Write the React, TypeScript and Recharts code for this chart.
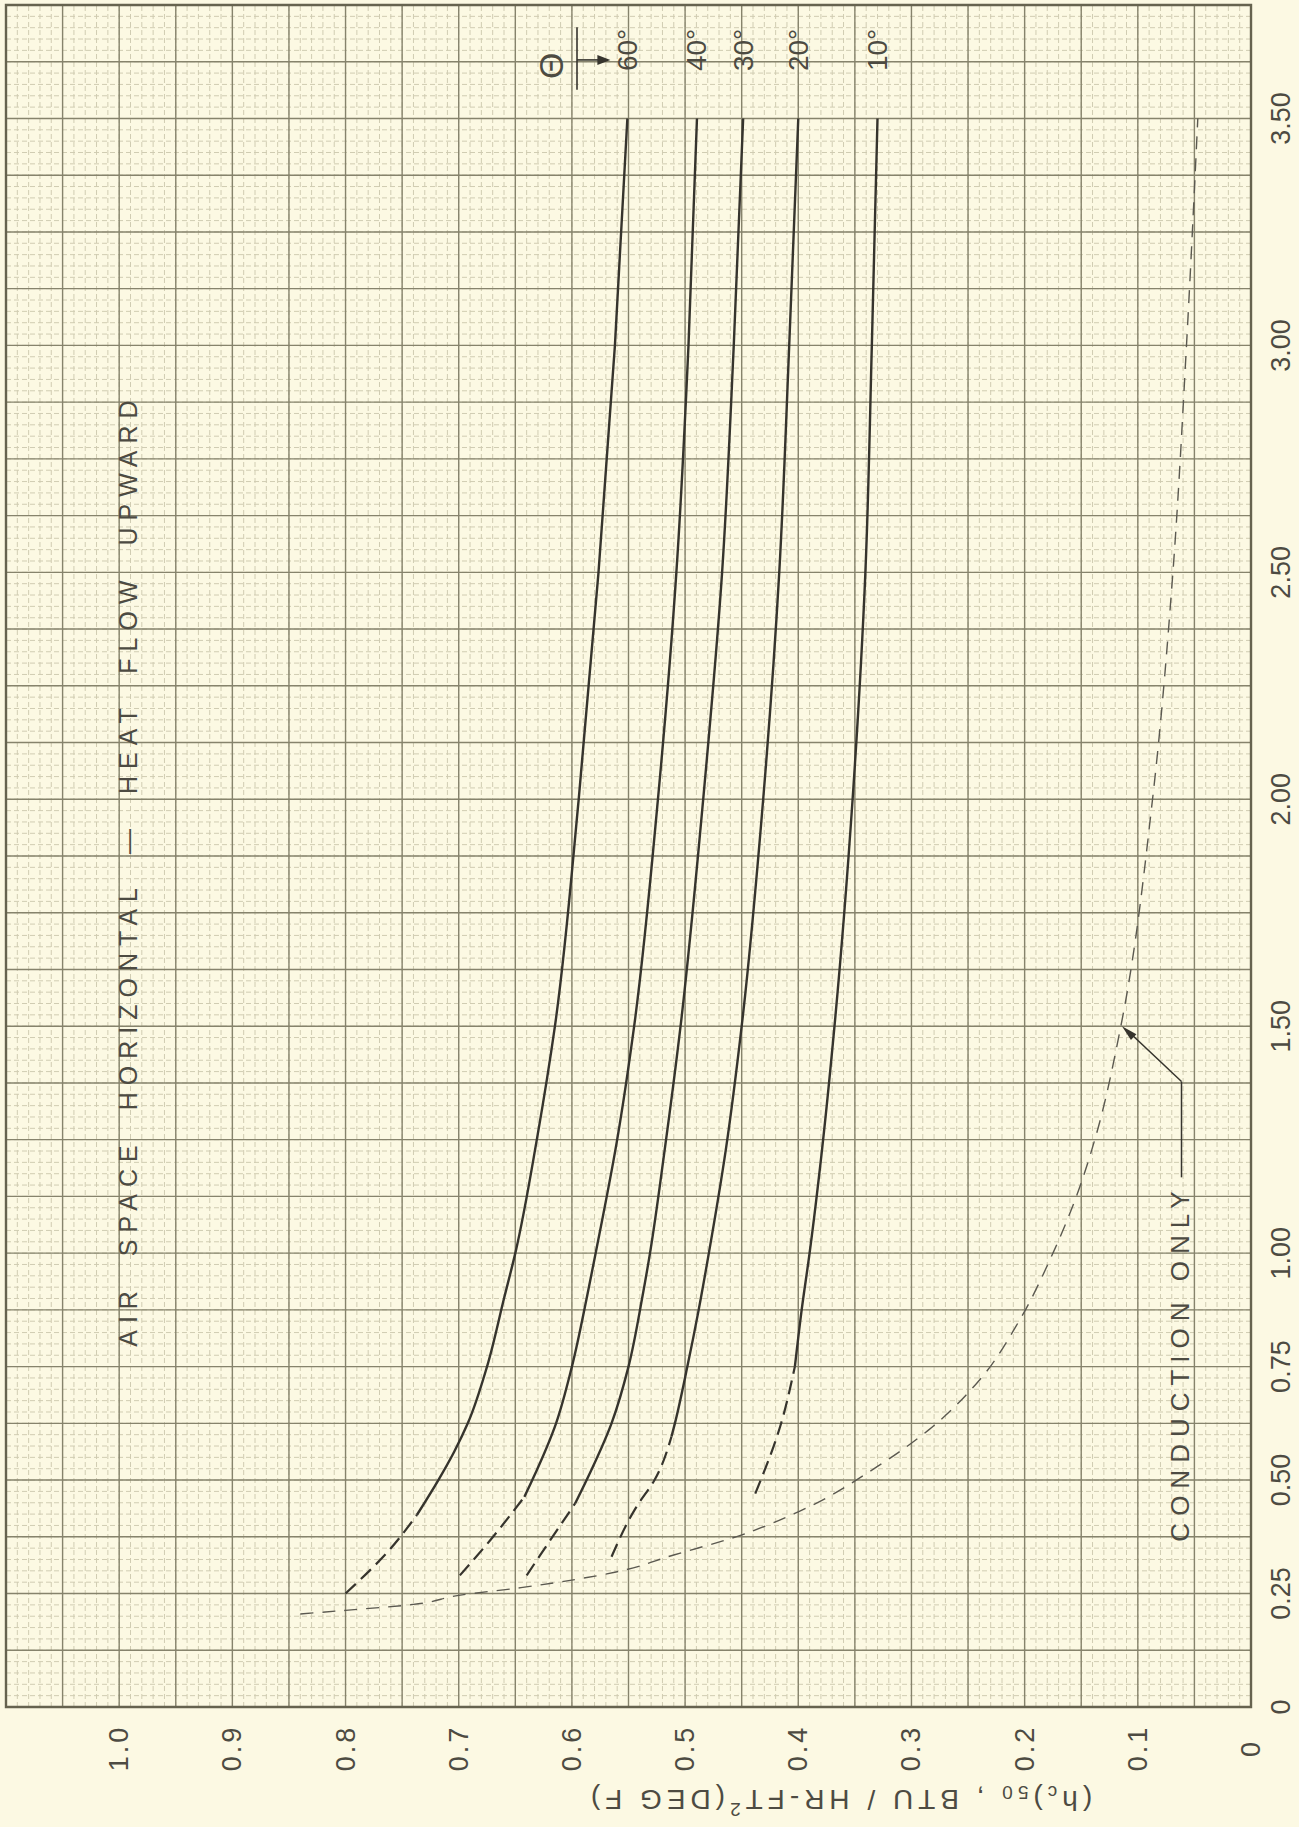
import React from 'react'
import {
  LineChart, Line, XAxis, YAxis, CartesianGrid,
  ReferenceArea, ReferenceLine, ReferenceDot,
} from 'recharts'

// The sheet is drawn as a normal chart (L across, hc up) and then turned
// a quarter turn counter-clockwise, the way the original sheet is printed.

// L, air space thickness (in)
const lTicks = [0, 0.25, 0.5, 0.75, 1, 1.5, 2, 2.5, 3, 3.5]
const lTickLabels = ['0', '0.25', '0.50', '0.75', '1.00', '1.50', '2.00', '2.50', '3.00', '3.50']
// (hc)50, BTU / HR-FT2 (DEG F)
const hcTicks = [0, 0.1, 0.2, 0.3, 0.4, 0.5, 0.6, 0.7, 0.8, 0.9, 1.0]
const hcTickLabels = ['0', '0.1', '0.2', '0.3', '0.4', '0.5', '0.6', '0.7', '0.8', '0.9', '1.0']

const angleLabels = ['60°', '40°', '30°', '20°', '10°']

// theta = 60
const l60Dash = [0.25, 0.344, 0.423]
const hc60Dash = [0.8, 0.762, 0.737]
const l60 = [0.423, 0.5, 0.5625, 0.625, 0.75, 0.9, 1.0, 1.25, 1.5, 2.0, 2.5, 3.0, 3.5]
const hc60 = [0.737, 0.718, 0.704, 0.692, 0.675, 0.66, 0.65, 0.631, 0.615, 0.594, 0.5765, 0.562, 0.551]

// theta = 40
const l40Dash = [0.29, 0.368, 0.463]
const hc40Dash = [0.699, 0.672, 0.642]
const l40 = [0.463, 0.5, 0.625, 0.75, 0.9, 1.0, 1.25, 1.5, 2.0, 2.5, 3.0, 3.5]
const hc40 = [0.642, 0.635, 0.614, 0.6, 0.587, 0.579, 0.56, 0.545, 0.524, 0.5077, 0.497, 0.4895]

// theta = 30
const l30Dash = [0.29, 0.368, 0.449]
const hc30Dash = [0.64, 0.619, 0.597]
const l30 = [0.449, 0.5, 0.625, 0.75, 0.9, 1.0, 1.228, 1.5, 2.0, 2.5, 3.0, 3.5]
const hc30 = [0.597, 0.587, 0.565, 0.55, 0.538, 0.531, 0.518, 0.504, 0.484, 0.4673, 0.457, 0.4487]

// theta = 20
const l20Dash = [0.331, 0.441, 0.5, 0.596]
const hc20Dash = [0.565, 0.543, 0.527, 0.512]
const l20 = [0.596, 0.625, 0.75, 0.875, 1.0, 1.228, 1.5, 2.0, 2.5, 3.0, 3.5]
const hc20 = [0.512, 0.509, 0.498, 0.488, 0.479, 0.464, 0.45, 0.431, 0.4168, 0.408, 0.4]

// theta = 10
const l10Dash = [0.47, 0.618, 0.75]
const hc10Dash = [0.438, 0.416, 0.403]
const l10 = [0.75, 0.875, 1.0, 1.228, 1.5, 2.0, 2.5, 3.0, 3.5]
const hc10 = [0.403, 0.397, 0.39, 0.379, 0.368, 0.352, 0.3407, 0.335, 0.33]

// conduction only
const lCond = [0.205, 0.213, 0.226, 0.246, 0.263, 0.298, 0.335, 0.375, 0.43, 0.53, 0.61, 0.72, 0.85, 1.0, 1.12, 1.25, 1.5, 2.0, 2.5, 3.0, 3.5]
const hcCond = [0.84, 0.8, 0.74, 0.7, 0.645, 0.56, 0.51, 0.455, 0.4, 0.33, 0.285, 0.24, 0.205, 0.175, 0.155, 0.138, 0.115, 0.087, 0.069, 0.057, 0.047]

const zip = (l: number[], hc: number[]) => l.map((v, i) => ({ L: v, hc: hc[i] }))

const curves = [
  { dash: zip(l60Dash, hc60Dash), solid: zip(l60, hc60) },
  { dash: zip(l40Dash, hc40Dash), solid: zip(l40, hc40) },
  { dash: zip(l30Dash, hc30Dash), solid: zip(l30, hc30) },
  { dash: zip(l20Dash, hc20Dash), solid: zip(l20, hc20) },
  { dash: zip(l10Dash, hc10Dash), solid: zip(l10, hc10) },
]

// graph paper rulings
const minorL = Array.from({ length: 151 }, (_, i) => Math.round(i * 25) / 1000)
const minorHc = Array.from({ length: 111 }, (_, i) => Math.round(i * 10) / 1000)
const majorL = Array.from({ length: 31 }, (_, i) => Math.round(i * 125) / 1000)
const majorHc = Array.from({ length: 23 }, (_, i) => Math.round(i * 50) / 1000)

const W = 1827
const H = 1299
const PLOT_LEFT = 120
const PLOT_BOTTOM = 1251

const paper = '#fcf9e3'
const ink = '#4d4b42'
const lineInk = '#36342d'
const font = '"Liberation Sans", Arial, sans-serif'

function LTick(props: any) {
  const { x, payload } = props
  const i = lTicks.indexOf(payload.value)
  return (
    <text x={x} y={PLOT_BOTTOM + 30} textAnchor="middle" dominantBaseline="central"
      fontSize={27} fill={ink} fontFamily={font}>
      {lTickLabels[i]}
    </text>
  )
}

function HcTick(props: any) {
  const { y, payload } = props
  const i = hcTicks.findIndex((t) => Math.abs(t - payload.value) < 1e-6)
  return (
    <text x={PLOT_LEFT - 41} y={y} textAnchor="middle" dominantBaseline="central"
      fontSize={27} fill={ink} fontFamily={font} letterSpacing={3}>
      {hcTickLabels[i]}
    </text>
  )
}

function HcTitle(props: any) {
  const vb = props.viewBox || { x: 0, y: 6 }
  const x = vb.x + 27
  const y = vb.y + 833
  return (
    <text x={x} y={y} transform={`rotate(-90, ${x}, ${y})`} textAnchor="middle"
      dominantBaseline="central" fontSize={28} fill={ink} fontFamily={font} letterSpacing={5}>
      (h<tspan fontSize={19} dy={7}>c</tspan>
      <tspan dy={-7}>)</tspan>
      <tspan fontSize={19} dy={7}>50</tspan>
      <tspan dy={-7}> , BTU / HR-FT</tspan>
      <tspan fontSize={19} dy={-10}>2</tspan>
      <tspan dy={10}>(DEG F)</tspan>
    </text>
  )
}

const textAt = (label: string, size: number, spacing = 0, words = 0) => (p: any) => (
  <text x={p.cx} y={p.cy} textAnchor="middle" dominantBaseline="central"
    fontSize={size} fill={ink} fontFamily={font} letterSpacing={spacing} wordSpacing={words}>
    {label}
  </text>
)

const arrowDown = (p: any) => (
  <polygon points={`${p.cx},${p.cy} ${p.cx - 5},${p.cy - 13} ${p.cx + 5},${p.cy - 13}`} fill={lineInk} />
)

const arrowLeader = (p: any) => (
  <polygon points={`${p.cx},${p.cy} ${p.cx - 16},${p.cy - 4} ${p.cx - 16},${p.cy + 4}`}
    fill={lineInk} transform={`rotate(-47, ${p.cx}, ${p.cy})`} />
)

export default function App() {
  return (
    <div
      style={{
        position: 'absolute', left: 0, top: 0, width: W, height: H,
        background: paper, transformOrigin: '0 0',
        transform: `translateY(${W}px) rotate(-90deg)`,
      }}
    >
      <LineChart width={W} height={H} margin={{ top: 6, right: 5, bottom: 0, left: 0 }}>
        <CartesianGrid verticalValues={minorL} horizontalValues={minorHc}
          stroke="#d0ccb2" strokeWidth={1} strokeDasharray="5 3" />
        <CartesianGrid verticalValues={majorL} horizontalValues={majorHc}
          stroke="#86836c" strokeWidth={1.4} />
        <XAxis type="number" dataKey="L" domain={[0, 3.75]} ticks={lTicks} interval={0}
          allowDataOverflow tick={<LTick />} tickLine={false} axisLine={false} height={48} />
        <YAxis type="number" dataKey="hc" domain={[0, 1.1]} ticks={hcTicks} interval={0}
          allowDataOverflow tick={<HcTick />} tickLine={false} axisLine={false} width={120}
          label={{ content: (p: any) => <HcTitle {...p} /> }} />
        <ReferenceArea x1={0} x2={3.75} y1={0} y2={1.1} fill="none" stroke="#66634f" strokeWidth={2.4} />

        <Line data={zip(lCond, hcCond)} dataKey="hc" type="monotone" stroke="#5b5950"
          strokeWidth={1.4} strokeDasharray="13 9" dot={false} activeDot={false} isAnimationActive={false} />
        {curves.map((c, i) => (
          <Line key={`d${i}`} data={c.dash} dataKey="hc" type="monotone" stroke={lineInk}
            strokeWidth={2.2} strokeDasharray="14 7" dot={false} activeDot={false} isAnimationActive={false} />
        ))}
        {curves.map((c, i) => (
          <Line key={`s${i}`} data={c.solid} dataKey="hc" type="monotone" stroke={lineInk}
            strokeWidth={2.4} dot={false} activeDot={false} isAnimationActive={false} />
        ))}

        {/* curve labels over the ends */}
        {curves.map((c, i) => (
          <ReferenceDot key={`a${i}`} x={3.651} y={c.solid[c.solid.length - 1].hc} r={0}
            shape={textAt(angleLabels[i], 28)} />
        ))}
        <ReferenceDot x={3.616} y={0.6185} r={0} shape={textAt('Θ', 34)} />
        <ReferenceLine segment={[{ x: 3.563, y: 0.5955 }, { x: 3.701, y: 0.5955 }]} stroke={lineInk} strokeWidth={1.6} />
        <ReferenceLine segment={[{ x: 3.629, y: 0.5955 }, { x: 3.629, y: 0.572 }]} stroke={lineInk} strokeWidth={1.6} />
        <ReferenceDot x={3.629} y={0.566} r={0} shape={arrowDown} />

        <ReferenceDot x={1.844} y={0.992} r={0}
          shape={textAt('AIR SPACE HORIZONTAL — HEAT FLOW UPWARD', 25, 7, 14)} />

        <ReferenceDot x={0.758} y={0.0627} r={0} shape={textAt('CONDUCTION ONLY', 26, 7)} />
        <ReferenceLine segment={[{ x: 1.167, y: 0.0614 }, { x: 1.378, y: 0.0614 }]} stroke={lineInk} strokeWidth={1.5} />
        <ReferenceLine segment={[{ x: 1.378, y: 0.0614 }, { x: 1.49, y: 0.109 }]} stroke={lineInk} strokeWidth={1.5} />
        <ReferenceDot x={1.5} y={0.114} r={0} shape={arrowLeader} />
      </LineChart>
    </div>
  )
}
